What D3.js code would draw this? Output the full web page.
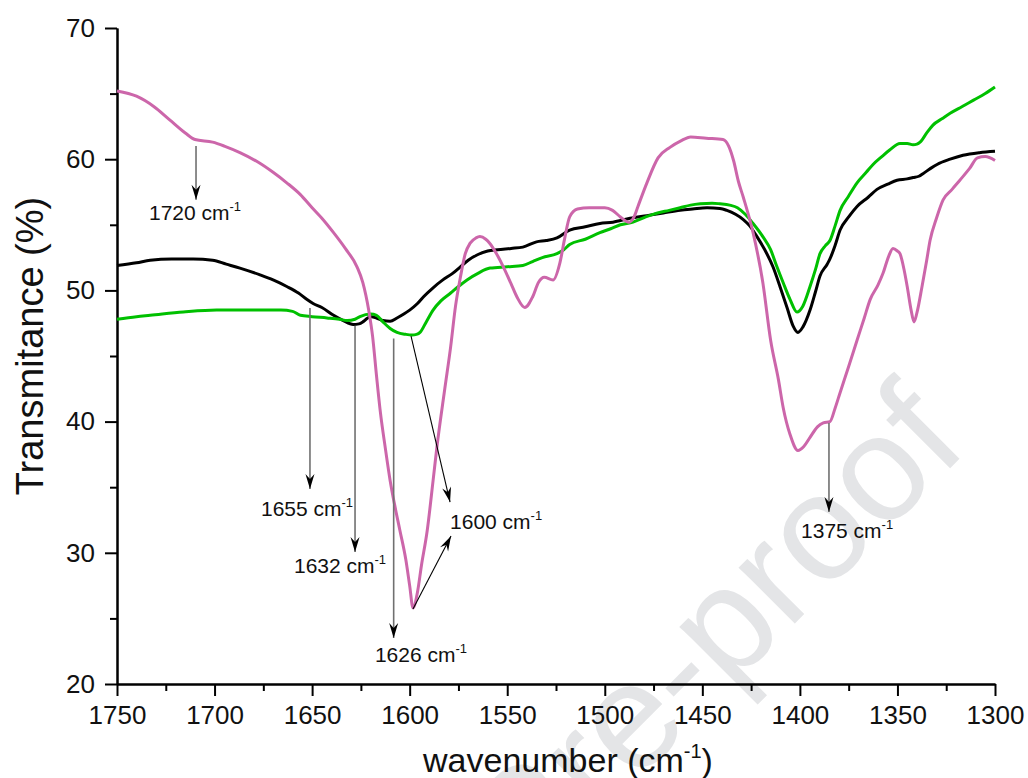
<!DOCTYPE html>
<html>
<head>
<meta charset="utf-8">
<script src="https://cdn.jsdelivr.net/npm/d3@7"></script>
<style>
  html, body { margin: 0; padding: 0; background: #fff; }
  svg { display: block; }
  text { font-family: "Liberation Sans", Arial, Helvetica, sans-serif; }
</style>
</head>
<body>
<svg id="chart" width="1028" height="778"></svg>
<script>
// ---------------- data ----------------
const xTicks = [1750, 1700, 1650, 1600, 1550, 1500, 1450, 1400, 1350, 1300];
const xMinorTicks = [1725, 1675, 1625, 1575, 1525, 1475, 1425, 1375, 1325];
const yTicks = [20, 30, 40, 50, 60, 70];
const yMinorTicks = [25, 35, 45, 55, 65];

const pinkWn = [1750,1740,1731,1723,1715,1710,1701,1695,1687,1678,1670,1663,1656,1650,1645,1639,1633,1627,1624,1621,1619,1617,1615,1612.5,1610,1607.5,1605,1602,1600,1598.3,1596,1594,1591,1588,1586,1582,1579,1576.5,1574,1571.5,1569,1566,1564,1561,1559,1555.5,1552,1548,1545,1541,1537,1534,1531,1526.5,1523,1520.5,1518,1514,1508,1500,1496,1492,1487.6,1485,1483,1478.4,1472.7,1466.6,1461,1456,1448,1439.4,1436.5,1434,1431.5,1429,1424,1419,1415,1411,1408.6,1405,1401,1398,1394.8,1391,1388,1384.6,1382,1379.4,1375,1370.7,1367,1364,1360,1357.4,1354.5,1352.3,1350,1348.7,1346.5,1345,1343,1341.5,1340,1337.4,1335,1333.3,1330,1326.6,1322,1318,1313,1309,1305,1300];
const pinkT  = [65.2,64.8,64.0,63.0,62.0,61.5,61.3,61.0,60.5,59.8,59.0,58.2,57.3,56.3,55.5,54.4,53.2,51.8,50.6,48.5,46.5,43.5,40.7,38.0,35.5,33.5,31.7,29.5,27.5,25.8,27.0,29.0,31.7,35.5,38.1,42.5,45.7,48.8,51.0,52.8,53.6,54.0,54.1,53.9,53.6,52.8,51.8,50.5,49.5,48.7,49.5,50.6,51.0,50.8,52.1,54.0,55.6,56.2,56.3,56.3,56.1,55.6,55.2,55.6,56.4,58.2,60.1,60.9,61.4,61.7,61.6,61.5,61.0,59.9,58.3,57.1,54.4,50.6,46.2,43.2,41.1,39.0,37.8,38.1,38.8,39.6,39.9,40.0,41.0,42.2,44.2,46.2,47.9,49.3,50.4,51.3,52.6,53.2,53.0,52.8,51.5,50.3,48.5,47.6,48.3,50.3,52.3,53.8,55.5,56.9,57.7,58.4,59.3,60.1,60.2,59.9];

const blackWn = [1750,1740,1733,1722,1711,1701,1694,1687,1677,1670,1663,1657,1652.6,1649.5,1645,1639,1634,1629,1626,1624,1621.5,1619.5,1617,1613.7,1610,1606.5,1603,1600,1596,1593,1588,1583,1578,1574,1570,1565.5,1560,1555,1548,1542,1535,1530,1524.5,1518,1510,1502.5,1495.8,1487,1478.4,1470,1461.4,1455,1447.6,1441,1437.4,1433,1429,1425.6,1422,1418,1413.8,1410,1406.6,1403.5,1401,1398.5,1394.8,1392,1389.7,1386,1384.6,1382,1379.4,1375,1370.7,1365,1360.5,1355,1350.2,1345,1342,1339,1336.9,1333,1329.7,1323,1316.4,1308,1300];
const blackT  = [51.9,52.1,52.3,52.4,52.4,52.3,52.0,51.7,51.2,50.8,50.3,49.8,49.3,49.0,48.7,48.1,47.7,47.4,47.45,47.6,47.9,48.0,47.9,47.7,47.65,47.9,48.2,48.5,49.0,49.5,50.2,50.8,51.3,51.8,52.3,52.7,53.0,53.1,53.2,53.3,53.7,53.8,54.0,54.6,54.85,55.1,55.2,55.5,55.7,55.9,56.1,56.2,56.3,56.25,56.1,55.8,55.4,54.9,54.1,53.1,51.8,50.2,48.7,47.3,46.8,47.2,48.5,49.9,51.1,52.0,52.4,53.4,54.6,55.6,56.4,57.1,57.7,58.1,58.4,58.5,58.6,58.7,58.9,59.3,59.6,60.0,60.3,60.5,60.6];

const greenWn = [1750,1740,1733,1716,1699,1682,1666,1660,1656,1650,1642.4,1636,1632,1628,1625.5,1620,1617,1613.7,1610,1606.5,1602,1598.8,1596.5,1594.7,1591.5,1588,1584,1579,1575,1570.6,1565,1558.8,1550,1542,1537,1532,1524.5,1521,1518,1510,1502.5,1497,1492,1485.5,1479,1473,1467,1461.4,1456,1451,1445,1441,1436,1432,1428,1424,1419,1415,1412,1408.6,1405,1401.5,1398.5,1394.8,1392,1389.7,1387,1384.6,1382,1379.4,1375,1370.7,1366,1362.5,1358,1354,1348.7,1345,1342,1340,1338.4,1335,1331.8,1327,1323,1317,1311,1305,1300];
const greenT  = [47.8,48.0,48.1,48.35,48.5,48.5,48.5,48.4,48.1,48.0,47.9,47.8,47.7,47.8,48.0,48.2,48.1,47.6,47.1,46.8,46.65,46.6,46.65,46.8,47.6,48.5,49.2,49.8,50.3,50.8,51.3,51.7,51.8,51.9,52.2,52.5,52.8,53.1,53.5,53.9,54.4,54.7,55.0,55.2,55.6,55.9,56.1,56.3,56.5,56.6,56.65,56.6,56.5,56.3,55.8,55.1,54.1,53.1,51.9,50.6,49.3,48.35,48.8,50.3,51.6,52.8,53.4,53.8,54.9,56.1,57.2,58.2,59.0,59.6,60.2,60.7,61.2,61.2,61.1,61.15,61.3,62.0,62.6,63.1,63.5,64.0,64.5,65.0,65.5];

// annotations: label text, arrow start [wn, T], arrow tip [wn, T], label start [wn, T]
const annLabels = ["1720", "1655", "1632", "1626", "1600", "1375"];
const annArrows = [
  {from: [1709.5, 61.0], to: [1709.5, 56.9], style: "grey"},
  {from: [1651.1, 48.66], to: [1651.1, 34.86], style: "grey"},
  {from: [1628.0, 47.29], to: [1628.0, 30.06], style: "grey"},
  {from: [1608.2, 46.34], to: [1608.2, 23.5], style: "grey"},
  {from: [1599.3, 46.52], to: [1579.3, 33.87], style: "black"},
  {from: [1598.3, 25.72], to: [1578.8, 31.28], style: "black"},
  {from: [1385.1, 39.89], to: [1385.1, 33.11], style: "grey"}
];
const annLabelPos = [[1733.6, 55.4], [1676.2, 32.8], [1659.3, 28.46], [1617.8, 21.68], [1579.3, 31.81], [1399.4, 31.13]];

// ---------------- chart ----------------
const svg = d3.select("#chart");
const x = d3.scaleLinear().domain([1750, 1300]).range([117, 995]);
const y = d3.scaleLinear().domain([20, 70]).range([684, 28]);
const fontFam = '"Liberation Sans", Arial, Helvetica, sans-serif';

// watermark
svg.append("text")
  .attr("transform", "translate(712,632) rotate(-45)")
  .attr("text-anchor", "middle")
  .attr("dy", "0.35em")
  .attr("font-size", 150)
  .attr("fill", "#e4e5e7")
  .text("Pre-proof");

// axes
const xAxis = svg.append("g").attr("transform", "translate(0,684)")
  .call(d3.axisBottom(x).tickValues(xTicks).tickSize(12).tickSizeOuter(0).tickPadding(10).tickFormat(d3.format("d")));
const xMinor = svg.append("g").attr("transform", "translate(0,684)")
  .call(d3.axisBottom(x).tickValues(xMinorTicks).tickSize(7).tickSizeOuter(0).tickFormat(""));
const yAxis = svg.append("g").attr("transform", "translate(117,0)")
  .call(d3.axisLeft(y).tickValues(yTicks).tickSize(12).tickSizeOuter(0).tickPadding(10).tickFormat(d3.format("d")));
const yMinor = svg.append("g").attr("transform", "translate(117,0)")
  .call(d3.axisLeft(y).tickValues(yMinorTicks).tickSize(7).tickSizeOuter(0).tickFormat(""));

[xAxis, xMinor, yAxis, yMinor].forEach(g => {
  g.selectAll("path.domain").attr("stroke", "#000").attr("stroke-width", 2);
  g.selectAll(".tick line").attr("stroke", "#000").attr("stroke-width", 2);
  g.selectAll(".tick text").attr("font-family", fontFam).attr("font-size", 26).attr("fill", "#111");
});

// axis titles
const xt = svg.append("text")
  .attr("x", 568).attr("y", 772)
  .attr("text-anchor", "middle")
  .attr("font-size", 34).attr("fill", "#111");
xt.append("tspan").text("wavenumber (cm");
xt.append("tspan").attr("font-size", 20).attr("dy", -14).text("-1");
xt.append("tspan").attr("dy", 14).text(")");

svg.append("text")
  .attr("transform", "translate(43,346) rotate(-90)")
  .attr("text-anchor", "middle")
  .attr("font-size", 38).attr("fill", "#111")
  .text("Transmitance (%)");

// curves
const line = d3.line().x(d => x(d[0])).y(d => y(d[1])).curve(d3.curveMonotoneX);
const series = [
  {wn: blackWn, t: blackT, color: "#000000"},
  {wn: greenWn, t: greenT, color: "#00c000"},
  {wn: pinkWn, t: pinkT, color: "#cc66aa"}
];
series.forEach(s => {
  const pts = s.wn.map((w, i) => [w, s.t[i]]);
  svg.append("path").datum(pts)
    .attr("fill", "none").attr("stroke", s.color)
    .attr("stroke-width", 3).attr("stroke-linejoin", "round")
    .attr("d", line);
});

// annotation arrows
annArrows.forEach(a => {
  const x1 = x(a.from[0]), y1 = y(a.from[1]), x2 = x(a.to[0]), y2 = y(a.to[1]);
  svg.append("line")
    .attr("x1", x1).attr("y1", y1).attr("x2", x2).attr("y2", y2)
    .attr("stroke", a.style === "grey" ? "#707070" : "#000")
    .attr("stroke-width", a.style === "grey" ? 1.6 : 1.1);
  const ang = Math.atan2(y2 - y1, x2 - x1) * 180 / Math.PI;
  svg.append("path")
    .attr("transform", `translate(${x2},${y2}) rotate(${ang})`)
    .attr("d", "M0,0 L-15,-4.5 L-10,0 L-15,4.5 Z")
    .attr("fill", "#000");
});

// annotation labels
annLabels.forEach((lab, i) => {
  const t = svg.append("text")
    .attr("x", x(annLabelPos[i][0])).attr("y", y(annLabelPos[i][1]))
    .attr("font-size", 21).attr("fill", "#111");
  t.append("tspan").text(lab + " cm");
  t.append("tspan").attr("font-size", 13).attr("dy", -9).text("-1");
});
</script>
</body>
</html>
